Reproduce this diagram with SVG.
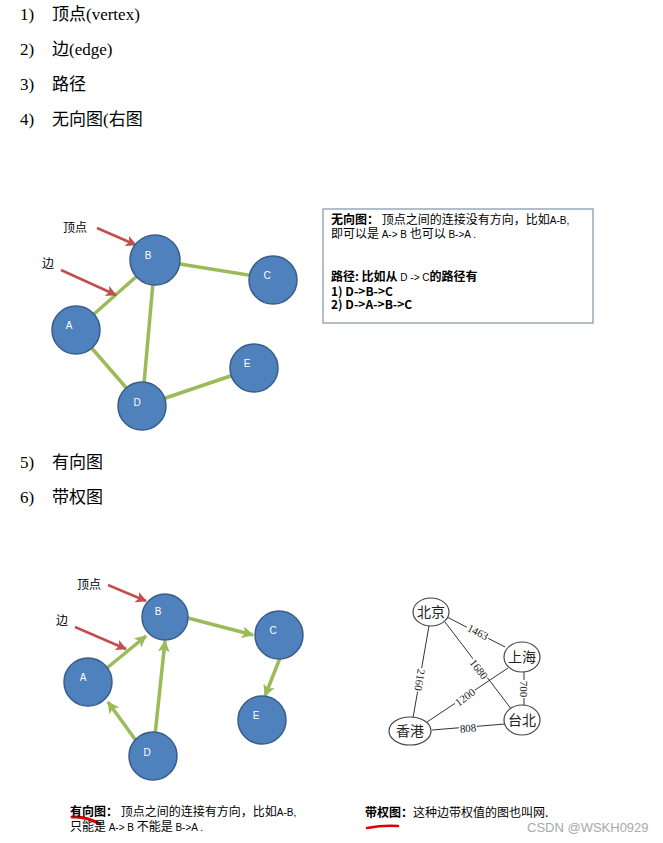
<svg xmlns="http://www.w3.org/2000/svg" width="663" height="843" viewBox="0 0 663 843">
<style>
.li{font-family:"Liberation Serif","Noto Sans CJK SC",serif;font-size:17px;fill:#000}
.nd{fill:#4f81bd;stroke:#385d8a;stroke-width:1.5}
.nl{font-family:"Liberation Sans","Noto Sans CJK SC",sans-serif;font-size:10px;fill:#fff;text-anchor:middle}
.ge{stroke:#9bbb59;stroke-width:3.5;fill:none}
.ra{stroke:#c0504d;stroke-width:2.5;fill:none}
.cap{font-family:"Noto Sans CJK SC","Liberation Sans",sans-serif;font-size:12px;fill:#000}
.sm{font-family:"Liberation Sans",sans-serif;font-size:10px}
.b{font-weight:bold}
.wn{fill:#fff;stroke:#444;stroke-width:1.2}
.wt{font-family:"Noto Sans CJK SC",serif;font-size:14px;fill:#222;text-anchor:middle}
.we{stroke:#333;stroke-width:1;fill:none}
.wl{font-family:"Liberation Serif",serif;font-size:11px;fill:#222;text-anchor:middle}
</style>
<defs>
<marker id="gh" viewBox="0 0 12 12" markerWidth="12" markerHeight="12" refX="11" refY="6" orient="auto" markerUnits="userSpaceOnUse">
<path d="M0,0 L12,6 L0,12 L3,6 z" fill="#9bbb59"/>
</marker>
<marker id="rh" viewBox="0 0 12 12" markerWidth="11" markerHeight="11" refX="11" refY="6" orient="auto" markerUnits="userSpaceOnUse">
<path d="M0,0 L12,6 L0,12 L3,6 z" fill="#c0504d"/>
</marker>
</defs>
<rect width="663" height="843" fill="#fff"/>

<g id="list">
<text class="li" x="20" y="20">1)</text><text class="li" x="52" y="20">顶点(vertex)</text>
<text class="li" x="20" y="55">2)</text><text class="li" x="52" y="55">边(edge)</text>
<text class="li" x="20" y="90">3)</text><text class="li" x="52" y="90">路径</text>
<text class="li" x="20" y="125">4)</text><text class="li" x="52" y="125">无向图(右图</text>
<text class="li" x="20" y="468">5)</text><text class="li" x="52" y="468">有向图</text>
<text class="li" x="20" y="503">6)</text><text class="li" x="52" y="503">带权图</text>
</g>

<!-- Undirected graph -->
<g id="edges1">
<line class="ge" x1="155" y1="260" x2="273" y2="279"/>
<line class="ge" x1="76" y1="330" x2="155" y2="260"/>
<line class="ge" x1="155" y1="260" x2="142" y2="406"/>
<line class="ge" x1="76" y1="330" x2="142" y2="406"/>
<line class="ge" x1="142" y1="406" x2="254" y2="368"/>
<line class="ra" x1="97" y1="228" x2="136" y2="245" marker-end="url(#rh)"/>
<line class="ra" x1="61" y1="270" x2="116" y2="295" marker-end="url(#rh)"/>
</g>
<g id="u-B"><circle class="nd" cx="155" cy="260" r="25"/><text class="nl" x="148" y="259">B</text></g>
<g id="u-C"><circle class="nd" cx="273" cy="280" r="24"/><text class="nl" x="267" y="279">C</text></g>
<g id="u-A"><circle class="nd" cx="76" cy="330" r="24"/><text class="nl" x="69" y="329">A</text></g>
<g id="u-D"><circle class="nd" cx="142" cy="406" r="24"/><text class="nl" x="137" y="406">D</text></g>
<g id="u-E"><circle class="nd" cx="254" cy="368" r="24"/><text class="nl" x="247" y="367">E</text></g>
<g id="u-labels">
<text class="cap" x="63" y="232">顶点</text>
<text class="cap" x="42" y="268">边</text>
</g>

<g id="infobox">
<rect x="323" y="209" width="270" height="114" fill="#fff" stroke="#7f93a8" stroke-width="1.2"/>
<text class="cap" x="331" y="224" font-size="12.5"><tspan class="b">无向图：</tspan> 顶点之间的连接没有方向，比如<tspan class="sm">A-B,</tspan></text>
<text class="cap" x="331" y="238" font-size="12.5">即可以是 <tspan class="sm">A-&gt; B</tspan> 也可以 <tspan class="sm">B-&gt;A .</tspan></text>
<text class="cap b" x="331" y="281" font-size="13">路径: 比如从 <tspan class="sm" font-weight="normal" font-size="11">D -&gt; C</tspan>的路径有</text>
<text class="cap" x="331" y="296" font-size="10" font-weight="bold" font-family="Liberation Sans,sans-serif">1) D-&gt;B-&gt;C</text>
<text class="cap" x="331" y="309" font-size="10" font-weight="bold" font-family="Liberation Sans,sans-serif">2) D-&gt;A-&gt;B-&gt;C</text>
</g>

<!-- Directed graph -->
<g id="edges2">
<line class="ge" x1="188" y1="618" x2="253" y2="635" marker-end="url(#gh)"/>
<line class="ge" x1="107" y1="668" x2="146" y2="636" marker-end="url(#gh)"/>
<line class="ge" x1="155" y1="735" x2="165" y2="641" marker-end="url(#gh)"/>
<line class="ge" x1="137" y1="742" x2="108" y2="702" marker-end="url(#gh)"/>
<line class="ge" x1="280" y1="658" x2="265" y2="696" marker-end="url(#gh)"/>
<line class="ra" x1="108" y1="585" x2="146" y2="601" marker-end="url(#rh)"/>
<line class="ra" x1="75" y1="627" x2="126" y2="649" marker-end="url(#rh)"/>
</g>
<g id="d-B"><circle class="nd" cx="165" cy="617" r="23"/><text class="nl" x="158" y="615">B</text></g>
<g id="d-C"><circle class="nd" cx="279" cy="635" r="24"/><text class="nl" x="273" y="634">C</text></g>
<g id="d-A"><circle class="nd" cx="88" cy="682" r="24"/><text class="nl" x="83" y="681">A</text></g>
<g id="d-E"><circle class="nd" cx="262" cy="720" r="24"/><text class="nl" x="256" y="719">E</text></g>
<g id="d-D"><circle class="nd" cx="153" cy="756" r="24"/><text class="nl" x="147" y="756">D</text></g>
<g id="d-labels">
<text class="cap" x="77" y="589">顶点</text>
<text class="cap" x="56" y="625">边</text>
</g>

<!-- Weighted graph -->
<g id="wedges">
<line class="we" x1="447" y1="617" x2="505" y2="647"/>
<line class="we" x1="445" y1="622" x2="512" y2="710"/>
<line class="we" x1="430" y1="620" x2="413" y2="718"/>
<line class="we" x1="508" y1="668" x2="427" y2="722"/>
<line class="we" x1="524" y1="671" x2="524" y2="706"/>
<line class="we" x1="432" y1="730" x2="505" y2="724"/>
<g transform="translate(478,632) rotate(27)"><rect x="-12" y="-5" width="24" height="10" fill="#fff"/><text class="wl" y="4">1463</text></g>
<g transform="translate(479,669) rotate(52)"><rect x="-12" y="-5" width="24" height="10" fill="#fff"/><text class="wl" y="4">1680</text></g>
<g transform="translate(420,680) rotate(99)"><rect x="-12" y="-5" width="24" height="10" fill="#fff"/><text class="wl" y="4">2160</text></g>
<g transform="translate(465,697) rotate(-36)"><rect x="-12" y="-5" width="24" height="10" fill="#fff"/><text class="wl" y="4">1200</text></g>
<g transform="translate(524,689) rotate(90)"><rect x="-9" y="-5" width="18" height="10" fill="#fff"/><text class="wl" y="4">700</text></g>
<g transform="translate(468,728) rotate(-5)"><rect x="-9" y="-5" width="18" height="10" fill="#fff"/><text class="wl" y="4">808</text></g>
</g>
<g id="w-bj"><ellipse class="wn" cx="431" cy="612" rx="18" ry="14"/><text class="wt" x="431" y="617">北京</text></g>
<g id="w-sh"><ellipse class="wn" cx="522" cy="657" rx="18" ry="15"/><text class="wt" x="522" y="662">上海</text></g>
<g id="w-tb"><ellipse class="wn" cx="522" cy="720" rx="18" ry="15"/><text class="wt" x="522" y="725">台北</text></g>
<g id="w-hk"><ellipse class="wn" cx="410" cy="731" rx="21" ry="14"/><text class="wt" x="410" y="736">香港</text></g>

<g id="captions">
<path d="M72,817 Q86,816 100,824" stroke="#e00000" stroke-width="3" fill="none" stroke-linecap="round"/>
<text class="cap" x="70" y="816"><tspan class="b">有向图：</tspan> 顶点之间的连接有方向，比如<tspan class="sm">A-B,</tspan></text>
<text class="cap" x="70" y="831">只能是 <tspan class="sm">A-&gt; B</tspan> 不能是 <tspan class="sm">B-&gt;A .</tspan></text>
<text class="cap" x="365" y="817"><tspan class="b">带权图：</tspan>这种边带权值的图也叫网.</text>
<path d="M367,828 Q383,825 398,826" stroke="#e00000" stroke-width="2.5" fill="none" stroke-linecap="round"/>
<text x="527" y="832" font-family="Liberation Sans,sans-serif" font-size="13" fill="#a8a8a8">CSDN @WSKH0929</text>
</g>
</svg>
